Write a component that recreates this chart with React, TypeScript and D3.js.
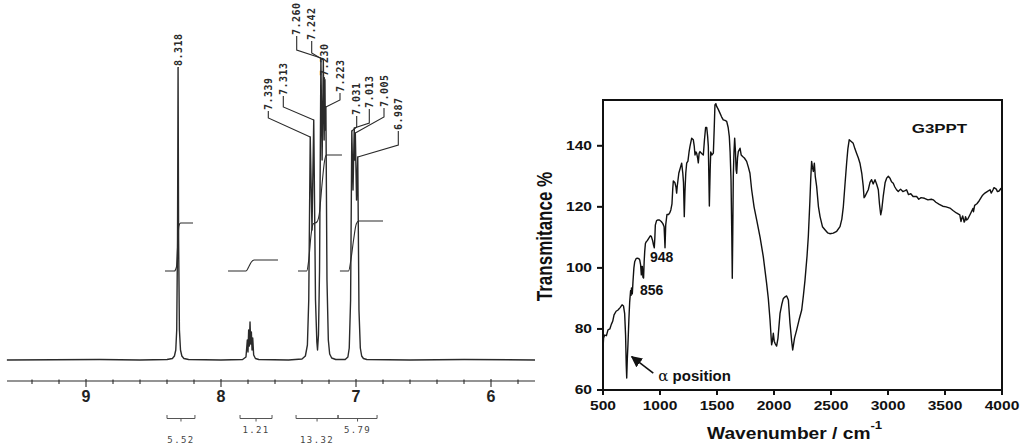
import React from 'react';
import * as d3 from 'd3';

// ---------------- NMR (left panel) ----------------
const nmrPpm = [9.586, 8.9, 8.6, 8.4, 8.36, 8.345, 8.335, 8.328, 8.322, 8.318, 8.314, 8.308, 8.3, 8.29, 8.275, 8.24, 8.0,
  7.84, 7.815, 7.805, 7.8, 7.795, 7.79, 7.785, 7.78, 7.775, 7.77, 7.765, 7.758, 7.745, 7.72, 7.5,
  7.4, 7.375, 7.36, 7.35, 7.339, 7.326, 7.313, 7.3, 7.29, 7.285, 7.278, 7.27, 7.26, 7.251, 7.242, 7.236, 7.23, 7.227, 7.223,
  7.215, 7.205, 7.195, 7.18, 7.15, 7.08, 7.06, 7.05, 7.04, 7.031, 7.022, 7.013, 7.009, 7.005, 6.996, 6.987, 6.978, 6.968,
  6.958, 6.945, 6.92, 6.6, 6.2, 5.674];
const nmrIntensity = [0, 0.5, 0, 0.5, 1.5, 4, 10, 30, 120, 292, 120, 30, 10, 4, 1.5, 0.5, 0,
  0.5, 3, 20, 8, 30, 14, 38, 16, 28, 10, 22, 5, 1.5, 0.5, 0,
  1, 4, 15, 60, 223, 130, 240, 60, 18, 10, 25, 90, 302, 200, 300, 220, 280, 230, 253,
  80, 20, 6, 2, 0.5, 0.5, 3, 12, 60, 229, 170, 232, 200, 227, 160, 203, 50, 12,
  4, 1.5, 0.5, 0, 0.5, 0];

const peakPpm = [8.318, 7.339, 7.313, 7.26, 7.242, 7.23, 7.223, 7.031, 7.013, 7.005, 6.987];
const peakText = ['8.318', '7.339', '7.313', '7.260', '7.242', '7.230', '7.223', '7.031', '7.013', '7.005', '6.987'];

const nmrTickLabels = [9, 8, 7, 6];

const integral1 = [[8.415, 89], [8.345, 89], [8.33, 93], [8.322, 112], [8.312, 134], [8.3, 137], [8.207, 137]];
const integral2 = [[7.948, 89], [7.815, 89], [7.795, 93], [7.775, 98], [7.755, 100], [7.578, 100]];
const integral3 = [[7.43, 89], [7.365, 89], [7.35, 100], [7.333, 125], [7.318, 136], [7.29, 138], [7.272, 146], [7.252, 175], [7.234, 198], [7.22, 205], [7.104, 205]];
const integral4 = [[7.119, 89], [7.055, 89], [7.038, 100], [7.018, 120], [6.998, 136], [6.98, 139], [6.8, 139]];

const integralFrom = [8.4, 7.859, 7.444, 7.133];
const integralTo = [8.193, 7.622, 7.133, 6.844];
const integralValue = ['5.52', '1.21', '13.32', '5.79'];

// label layout (screen positions of the rotated peak labels)
const leaderLayout = [
  { lx: 178.3, lb: 67, k1: 67 },
  { lx: 268.3, lb: 111, k1: 118 },
  { lx: 283.3, lb: 96, k1: 107 },
  { lx: 296.7, lb: 36, k1: 50 },
  { lx: 311.7, lb: 41, k1: 53 },
  { lx: 324.3, lb: 77, k1: 78 },
  { lx: 340, lb: 93, k1: 100 },
  { lx: 356.7, lb: 116, k1: 127 },
  { lx: 369.3, lb: 109, k1: 123 },
  { lx: 384, lb: 108, k1: 117 },
  { lx: 398.3, lb: 131, k1: 145 },
];
const integralLabelRow = [1, 0, 1, 0];

// ---------------- FTIR (right panel) ----------------
const ftirWave = [500, 505, 515, 530, 544, 560, 573, 585, 597, 615, 632, 650, 667, 680, 690, 698, 704, 708, 713, 719, 727, 734, 742, 746, 750, 757, 763, 771, 778, 790, 801, 815, 822, 830, 836, 841, 845, 850, 856, 861, 866, 872, 880, 890, 901, 915, 924, 935, 943, 950, 955, 959, 970, 982, 995, 1011, 1025, 1036, 1044, 1050, 1061, 1075, 1085, 1095, 1105, 1112, 1117, 1130, 1140, 1146, 1152, 1165, 1180, 1190, 1200, 1206, 1213, 1219, 1226, 1234, 1245, 1255, 1263, 1278, 1292, 1300, 1307, 1315, 1322, 1330, 1336, 1343, 1351, 1365, 1380, 1390, 1400, 1410, 1418, 1424, 1433, 1440, 1445, 1455, 1468, 1475, 1482, 1490, 1497, 1510, 1526, 1540, 1555, 1570, 1585, 1598, 1608, 1615, 1623, 1630, 1634, 1638, 1643, 1649, 1655, 1662, 1668, 1673, 1680, 1687, 1702, 1712, 1725, 1740, 1760, 1775, 1789, 1804, 1825, 1848, 1878, 1906, 1935, 1950, 1965, 1979, 1986, 1994, 2002, 2009, 2023, 2035, 2053, 2068, 2082, 2097, 2111, 2126, 2140, 2155, 2164, 2180, 2199, 2220, 2243, 2258, 2272, 2290, 2301, 2315, 2322, 2330, 2337, 2345, 2354, 2362, 2374, 2390, 2404, 2425, 2447, 2470, 2490, 2520, 2550, 2579, 2595, 2608, 2622, 2637, 2648, 2660, 2675, 2695, 2710, 2725, 2740, 2754, 2770, 2783, 2790, 2798, 2812, 2827, 2842, 2856, 2870, 2886, 2900, 2915, 2925, 2936, 2945, 2958, 2975, 2988, 3003, 3017, 3031, 3046, 3060, 3075, 3090, 3110, 3130, 3150, 3163, 3180, 3200, 3220, 3251, 3270, 3290, 3320, 3350, 3380, 3397, 3420, 3450, 3480, 3510, 3543, 3570, 3600, 3630, 3640, 3650, 3655, 3660, 3668, 3675, 3680, 3690, 3700, 3720, 3746, 3750, 3760, 3780, 3800, 3830, 3850, 3870, 3895, 3905, 3920, 3930, 3950, 3960, 3975, 3990, 4000];
const ftirT = [73.5, 77, 78, 77.8, 79.7, 80, 81.5, 82.5, 84.6, 85.8, 86.2, 87, 87.9, 87.5, 85, 78, 68, 63.9, 70, 75, 83, 88.8, 92.5, 91, 93.4, 91.5, 95.5, 100, 102, 103, 103.2, 103, 102.6, 101, 97.7, 100.5, 100.5, 97, 96.7, 102, 105.4, 108, 108.6, 109, 109.7, 110.5, 110.3, 109, 107.5, 106.6, 110, 114, 115.5, 115.7, 115.7, 115.2, 114.5, 113.5, 106.6, 114, 117.5, 117.5, 118, 119, 121, 126, 128.5, 128, 126.5, 124.5, 127, 131, 133, 134.3, 131, 128, 116.8, 125, 131, 134.3, 135, 138, 139.8, 142.5, 142, 140, 137, 138, 137.5, 136, 134.4, 137.5, 138.1, 137.5, 137, 142, 146, 146, 143, 139.8, 120.3, 132, 138, 137, 137.6, 145, 153.4, 153.8, 152.9, 152, 150.7, 149.5, 148.5, 148.3, 148, 146, 143, 138, 128.9, 110, 96.6, 110, 130, 138, 142.5, 138, 132, 131, 136, 138.1, 139.2, 137, 136.5, 136, 134.9, 133, 131, 125.6, 120, 115.7, 110, 103.7, 95, 90, 83, 74.8, 76, 78.6, 76, 75.3, 74.4, 77, 85.1, 88, 90, 90.5, 90.8, 89.5, 82, 76, 73.1, 77, 79.7, 83, 86.2, 91, 96, 104, 110.3, 122, 128.9, 134.9, 133, 131.6, 134.3, 130, 126.7, 120, 116.8, 113.5, 112.5, 111.5, 111.2, 111.4, 112, 113.5, 116, 120, 127, 134.3, 139, 142, 141.5, 140.8, 139, 137.5, 136, 134.3, 131, 126.7, 123, 123.4, 124.5, 125.6, 128, 128.9, 127.5, 128.9, 127.5, 125.6, 121, 117.4, 119, 123.4, 128, 129.4, 130, 129.4, 128.2, 127.7, 126.5, 125.6, 125, 125.8, 125, 125.3, 125.6, 124, 124.3, 123.4, 123.4, 122.5, 123, 122.8, 122.3, 122.5, 122.3, 121.5, 120.8, 120.2, 120, 119.6, 118.8, 118, 117.4, 115.2, 116.5, 117, 116.3, 115, 115.5, 116.8, 115.7, 116, 117.5, 119.5, 118.4, 120.5, 121, 122, 123.8, 124.5, 125, 125.6, 124.5, 125.5, 126.3, 125.8, 125, 125.2, 126, 125];

const ftirXTicks = [500, 1000, 1500, 2000, 2500, 3000, 3500, 4000];
const ftirYTicks = [60, 80, 100, 120, 140];
const ftirPeakNotes = ['948', '856'];
const ftirPeakNoteWave = [912, 825];
const ftirPeakNoteT = [101.9, 91.1];

const SANS = '"Liberation Sans", Arial, sans-serif';
const MONO = '"DejaVu Sans Mono", monospace';

export default function App() {
  // NMR scales
  const nx = d3.scaleLinear().domain([9, 6]).range([86, 491]);
  const ny = d3.scaleLinear().domain([0, 300]).range([360, 60]);
  const nmrLine = d3.line<number>().x((_, i) => nx(nmrPpm[i])).y((d) => ny(d));
  const intLine = d3.line<number[]>().x((d) => nx(d[0])).y((d) => ny(d[1])).curve(d3.curveMonotoneX);
  const minorTicks = d3.range(94, 57, -2).map((v) => v / 10);

  // FTIR scales
  const fx = d3.scaleLinear().domain([500, 4000]).range([603, 1002]);
  const fy = d3.scaleLinear().domain([60, 155]).range([390, 100]);
  const ftirLine = d3.line<number>().x((_, i) => fx(ftirWave[i])).y((d) => fy(d));

  const nmrColor = '#2a2a2a';

  return (
    <svg width={1024} height={445} style={{ position: 'absolute', left: 0, top: 0, background: '#fff' }}>
      <defs>
        <clipPath id="ftirClip">
          <rect x={603} y={100} width={399} height={290} />
        </clipPath>
        <marker id="arrowHead" viewBox="0 0 10 10" refX={9} refY={5} markerWidth={7} markerHeight={7} orient="auto">
          <path d="M0,0 L10,5 L0,10 z" fill="#111" />
        </marker>
      </defs>
      <rect x={0} y={0} width={1024} height={445} fill="#fff" />

      {/* ---------- NMR ---------- */}
      <path d={nmrLine(nmrIntensity) || ''} fill="none" stroke={nmrColor} strokeWidth={1.4} strokeLinejoin="round" />
      {[integral1, integral2, integral3, integral4].map((c, i) => (
        <path key={'int' + i} d={intLine(c) || ''} fill="none" stroke={nmrColor} strokeWidth={1.1} />
      ))}
      {peakPpm.map((p, i) => {
        const L = leaderLayout[i];
        const idx = nmrPpm.indexOf(p);
        const top = ny(nmrIntensity[idx]);
        return (
          <g key={'pk' + i}>
            <path d={`M${L.lx},${L.lb} L${L.lx},${L.k1} L${nx(p)},${top}`} fill="none" stroke={nmrColor} strokeWidth={1.1} />
            <text
              transform={`translate(${L.lx},${L.lb - 1}) rotate(-90)`}
              x={0}
              y={0}
              dy="0.36em"
              fontFamily={MONO}
              fontWeight="bold"
              fontSize={10}
              letterSpacing={0.5}
              fill="#2a2a2a"
            >
              {peakText[i]}
            </text>
          </g>
        );
      })}
      {/* axis */}
      <line x1={7} x2={535} y1={381} y2={381} stroke={nmrColor} strokeWidth={1.2} />
      {minorTicks.map((t) => {
        const major = Math.abs(t - Math.round(t)) < 1e-6;
        return (
          <line key={'nt' + t} x1={nx(t)} x2={nx(t)} y1={major ? 379 : 379.5} y2={major ? 387 : 384} stroke={nmrColor} strokeWidth={1.1} />
        );
      })}
      {nmrTickLabels.map((t) => (
        <text key={'nl' + t} x={nx(t)} y={402} textAnchor="middle" fontFamily={SANS} fontWeight="bold" fontSize={16} fill="#222">
          {t}
        </text>
      ))}
      {integralFrom.map((f, i) => {
        const x1 = nx(f);
        const x2 = nx(integralTo[i]);
        const xc = (x1 + x2) / 2;
        const yb = 418.5;
        return (
          <g key={'br' + i}>
            <path d={`M${x1},${yb - 3.5} L${x1},${yb} L${x2},${yb} L${x2},${yb - 3.5}`} fill="none" stroke="#555" strokeWidth={1} />
            <line x1={xc} x2={xc} y1={yb} y2={yb + 3} stroke="#555" strokeWidth={1} />
            <text
              x={xc}
              y={integralLabelRow[i] ? 443 : 433}
              textAnchor="middle"
              fontFamily={MONO}
              fontSize={9}
              letterSpacing={1.4}
              fill="#444"
            >
              {integralValue[i]}
            </text>
          </g>
        );
      })}

      {/* ---------- FTIR ---------- */}
      <path d={ftirLine(ftirT) || ''} fill="none" stroke="#111" strokeWidth={1.4} clipPath="url(#ftirClip)" strokeLinejoin="round" />
      <rect x={603} y={100} width={399} height={290} fill="none" stroke="#111" strokeWidth={2} />
      {ftirYTicks.map((t) => (
        <g key={'fy' + t}>
          <line x1={597} x2={603} y1={fy(t)} y2={fy(t)} stroke="#111" strokeWidth={2} />
          <g transform={`translate(592,${fy(t)}) scale(1.3,1)`}>
            <text x={0} y={0} dy="0.36em" textAnchor="end" fontFamily={SANS} fontWeight="bold" fontSize={12} fill="#111">
              {t}
            </text>
          </g>
        </g>
      ))}
      {ftirXTicks.map((t) => (
        <g key={'fx' + t}>
          <line x1={fx(t)} x2={fx(t)} y1={390} y2={395} stroke="#111" strokeWidth={2} />
          <g transform={`translate(${fx(t)},410) scale(1.3,1)`}>
            <text x={0} y={0} textAnchor="middle" fontFamily={SANS} fontWeight="bold" fontSize={12} fill="#111">
              {t}
            </text>
          </g>
        </g>
      ))}
      <g transform="translate(552,236.5) scale(1.3,1) rotate(-90)">
        <text x={0} y={0} textAnchor="middle" fontFamily={SANS} fontWeight="bold" fontSize={17} fill="#111">
          Transmitance %
        </text>
      </g>
      <g transform="translate(707,439) scale(1.2,1)">
        <text x={0} y={0} fontFamily={SANS} fontWeight="bold" fontSize={16} fill="#111">
          Wavenumber / cm
          <tspan dy={-10} fontSize={11}>-1</tspan>
        </text>
      </g>
      <g transform="translate(939.5,133) scale(1.3,1)">
        <text x={0} y={0} textAnchor="middle" fontFamily={SANS} fontWeight="bold" fontSize={13} fill="#111">
          G3PPT
        </text>
      </g>
      {ftirPeakNotes.map((s, i) => (
        <text key={'pn' + i} x={fx(ftirPeakNoteWave[i])} y={fy(ftirPeakNoteT[i])} fontFamily={SANS} fontWeight="bold" fontSize={14} fill="#111">
          {s}
        </text>
      ))}
      <line x1={fx(941)} y1={fy(65.5)} x2={fx(752)} y2={fy(70.9)} stroke="#111" strokeWidth={1.6} markerEnd="url(#arrowHead)" />
      <text x={fx(985)} y={fy(62.8)} fontFamily={SANS} fontWeight="bold" fontSize={15} fill="#111">
        <tspan fontFamily='"DejaVu Serif", "Liberation Serif", serif' fontWeight="normal" fontSize={15}>α</tspan>
        <tspan> position</tspan>
      </text>
    </svg>
  );
}
